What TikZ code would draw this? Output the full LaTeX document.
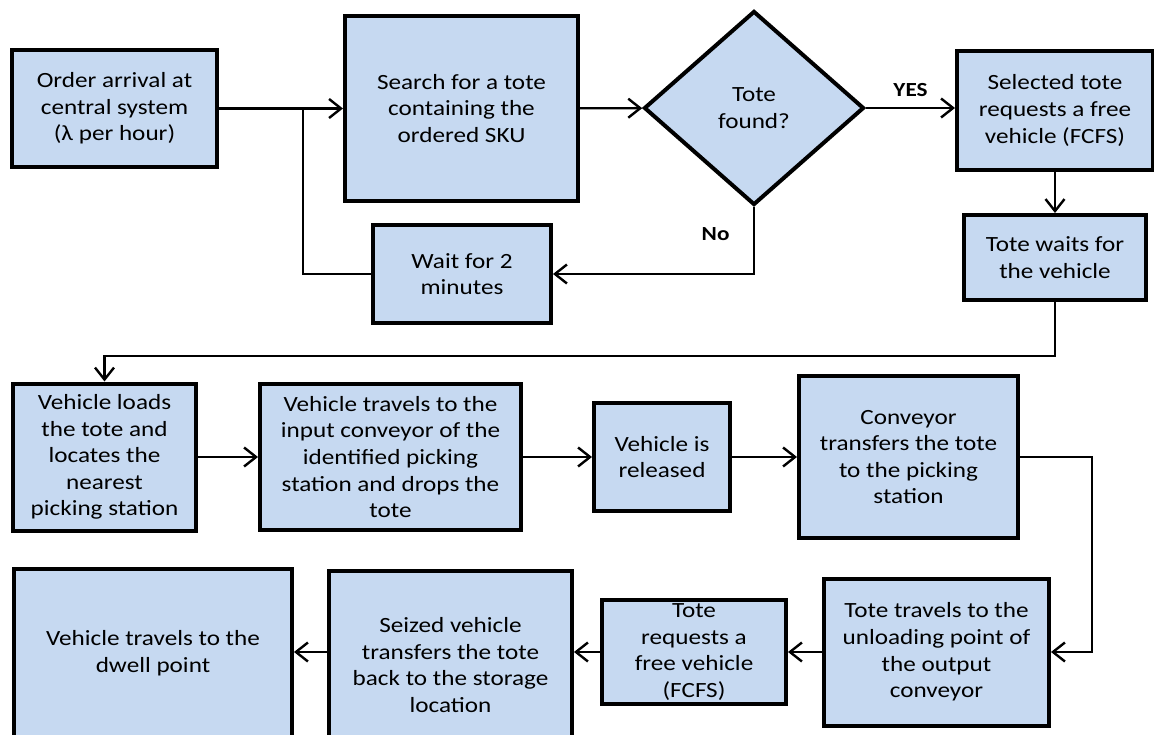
\documentclass[tikz,border=0pt]{standalone}
\usepackage{fontspec}
\setmainfont{Carlito}[FakeStretch=1.16]
\usetikzlibrary{shapes.geometric,arrows.meta}
\definecolor{boxblue}{RGB}{198,217,241}

\begin{document}
\begin{tikzpicture}[x=1pt, y=-1pt,
        box/.style={draw, line width=4pt, fill=boxblue, align=center, inner sep=0pt, font=\fontsize{21.7}{26.6}\selectfont},
        choice/.style={box, diamond},
        flow/.style={line width=2.4pt, -{Straight Barb[length=12pt,width=19pt]}},
        plain/.style={line width=2.4pt},
        lbl/.style={font=\bfseries\fontsize{20}{24}\selectfont}]
        \clip (0,0) rectangle (1154,735);

        \node[box, minimum width=205pt, minimum height=117pt] (Order) at (114.5,108.5) {Order arrival at\\central system\\(λ per hour)};
        \node[box, minimum width=233pt, minimum height=185pt] (Search) at (461.5,108.5) {Search for a tote\\containing the\\ordered SKU};
        \node[choice, minimum width=220pt, minimum height=194pt] (Found) at (754,108) {Tote\\found?};
        \node[box, minimum width=196pt, minimum height=119pt] (Select) at (1055,110.5) {Selected tote\\requests a free\\vehicle (FCFS)};
        \node[box, minimum width=182pt, minimum height=85pt] (Waits) at (1055,257.5) {Tote waits for\\the vehicle};
        \node[box, minimum width=178pt, minimum height=98pt] (Wait) at (462,274) {Wait for 2\\minutes};
        \node[box, minimum width=183pt, minimum height=147pt] (Load) at (104.5,457) {Vehicle loads\\the tote and\\locates the\\nearest\\picking station};
        \node[box, minimum width=261pt, minimum height=146pt] (Travel) at (390.5,457) {Vehicle travels to the\\input conveyor of the\\identified picking\\station and drops the\\tote};
        \node[box, minimum width=136pt, minimum height=108pt] (Release) at (662,457) {Vehicle is\\released};
        \node[box, minimum width=219pt, minimum height=162pt] (Conv) at (908.5,457) {Conveyor\\transfers the tote\\to the picking\\station};
        \node[box, minimum width=225pt, minimum height=147pt] (Unload) at (936.5,652) {Tote travels to the\\unloading point of\\the output\\conveyor};
        \node[box, minimum width=184pt, minimum height=104pt] (Request) at (694,652) {Tote\\requests a\\free vehicle\\(FCFS)};
        \node[box, minimum width=243pt, minimum height=188pt] (Back) at (450.5,665) {Seized vehicle\\transfers the tote\\back to the storage\\location};
        \node[box, minimum width=278pt, minimum height=169pt] (Dwell) at (153,653.5) {Vehicle travels to the\\dwell point};
        \coordinate (J) at (303,108.5);

        \draw[flow] (Order) -- (Search);
        \draw[plain] (Wait.west) -| (J);
        \draw[flow] (Search) -- (Found);
        \draw[flow] (Found.east) -- node[lbl, above=7pt] {YES} (Found.east -| Select.west);
        \draw[flow] (Found.south) |- node[lbl, pos=0.2, left=20pt] {No} (Wait.east);
        \draw[flow] (Select) -- (Waits);
        \draw[flow] (Waits.south) -- ++(0,54) -| (Load.north);
        \draw[flow] (Load) -- (Travel);
        \draw[flow] (Travel) -- (Release);
        \draw[flow] (Release) -- (Conv);
        \draw[flow] (Conv.east) -- ++(72,0) |- (Unload.east);
        \draw[flow] (Unload) -- (Request);
        \draw[flow] (Request.west) -- (Request.west -| Back.east);
        \draw[flow] (Back.west |- Request) -- (Dwell.east |- Request);
    \end{tikzpicture}
\end{document}
